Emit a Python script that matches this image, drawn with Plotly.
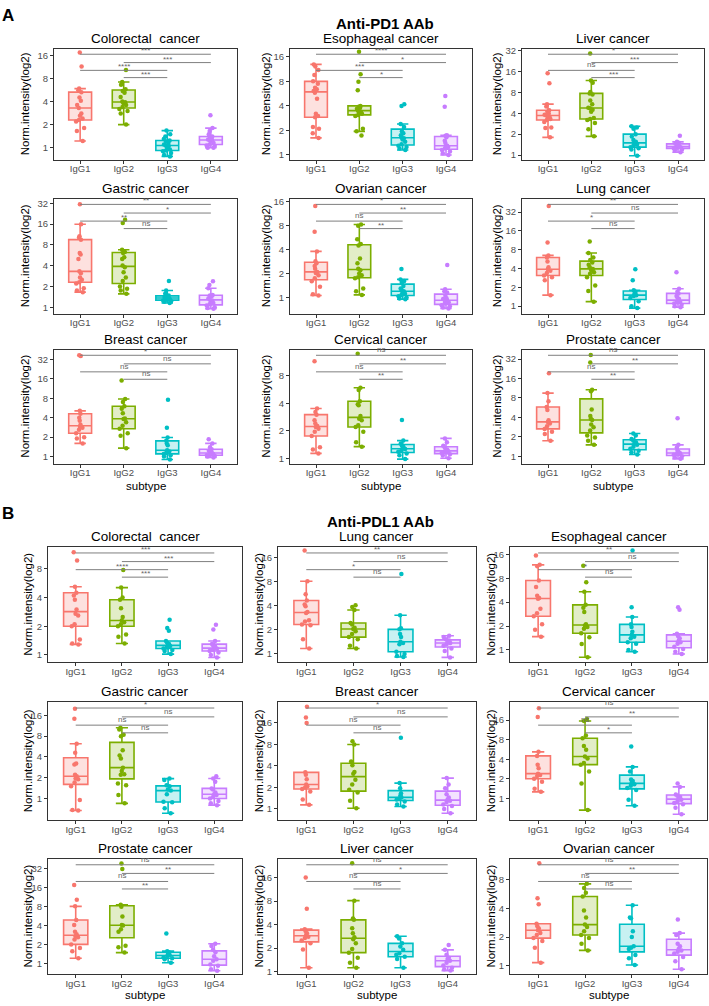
import math
import plotly.graph_objects as go

# ---------------- data ----------------
GROUPS = ["IgG1", "IgG2", "IgG3", "IgG4"]
COLORS = ["#F8766D", "#7CAE00", "#00BFC4", "#C77CFF"]
FILLS = ["rgba(248,118,109,0.22)", "rgba(124,174,0,0.22)",
         "rgba(0,191,196,0.22)", "rgba(199,124,255,0.22)"]
# comparison order (top to bottom): IgG1-IgG4, IgG2-IgG4, IgG1-IgG3, IgG2-IgG3
COMPARISONS = [(0, 3), (1, 3), (0, 2), (1, 2)]
Y_TICKS = [1, 2, 4, 8, 16, 32]

# ---- Panel A: Anti-PD1 AAb ----
pd1_titles = ["Colorectal  cancer", "Esophageal cancer", "Liver cancer",
              "Gastric cancer", "Ovarian cancer", "Lung cancer",
              "Breast cancer", "Cervical cancer", "Prostate cancer"]

pd1_colorectal = [
    [17.5, 11.5, 5.9, 5.6, 5.3, 4.5, 4.1, 3.6, 3.3, 2.8, 2.6, 2.4, 2.3, 2.2, 1.8, 1.65, 1.22],
    [10.3, 7.2, 6.6, 5.8, 5.5, 5.2, 4.6, 4.0, 3.9, 3.8, 3.6, 3.4, 3.2, 3.0, 2.8, 2.0],
    [1.67, 1.5, 1.4, 1.3, 1.24, 1.2, 1.15, 1.1, 1.07, 1.05, 1.0, 0.95, 0.92, 0.9, 0.85, 0.8, 0.77],
    [2.65, 1.8, 1.65, 1.5, 1.4, 1.35, 1.3, 1.28, 1.26, 1.22, 1.2, 1.15, 1.1, 1.07, 1.05, 1.0, 1.0],
]
pd1_esophageal = [
    [12.9, 12.2, 11, 9.6, 8.0, 7.5, 6.7, 6.4, 6.1, 5.8, 4.9, 3.2, 3.0, 2.9, 2.2, 2.1, 1.85, 1.62],
    [18.5, 9.8, 7.9, 6.2, 4.0, 3.9, 3.8, 3.7, 3.5, 3.4, 3.3, 3.2, 3.1, 3.0, 2.1, 1.95, 1.74],
    [4.2, 4.0, 2.4, 2.2, 1.95, 1.85, 1.75, 1.65, 1.6, 1.55, 1.45, 1.35, 1.3, 1.25, 1.2, 1.15],
    [5.3, 3.9, 1.75, 1.72, 1.65, 1.5, 1.4, 1.3, 1.27, 1.25, 1.2, 1.15, 1.1, 1.05, 1.0],
]
pd1_liver = [
    [15, 10.8, 5.4, 5.0, 4.4, 4.2, 4.0, 3.8, 3.7, 3.6, 3.4, 3.3, 3.2, 3.0, 2.5, 2.45, 1.8],
    [28.8, 11.8, 11, 8.1, 7.7, 7.4, 6.1, 5.4, 4.8, 4.7, 4.5, 4.2, 3.4, 3.3, 3.2, 2.9, 2.35, 1.86],
    [2.6, 2.5, 2.4, 2.0, 1.85, 1.65, 1.55, 1.45, 1.42, 1.38, 1.3, 1.25, 1.2, 0.98],
    [1.9, 1.55, 1.5, 1.45, 1.4, 1.35, 1.33, 1.3, 1.28, 1.25, 1.2, 1.15, 1.1],
]
pd1_gastric = [
    [31, 15.9, 10.6, 10.2, 9.5, 6.1, 5.8, 5.0, 3.3, 3.1, 2.7, 2.5, 2.3, 2.2, 1.88, 1.74, 1.65],
    [18.4, 16.5, 6.8, 6.3, 6.1, 5.3, 5.0, 4.0, 3.8, 3.2, 2.7, 2.4, 2.0, 1.85, 1.75, 1.56],
    [2.4, 1.74, 1.56, 1.47, 1.45, 1.42, 1.4, 1.37, 1.35, 1.33, 1.3, 1.28, 1.25, 1.22, 1.2, 1.15],
    [2.37, 2.1, 1.88, 1.5, 1.47, 1.44, 1.35, 1.3, 1.25, 1.2, 1.15, 1.1, 1.06, 1.0, 0.97, 0.95],
]
pd1_ovarian = [
    [14.1, 6.7, 3.8, 2.85, 2.7, 2.5, 2.3, 2.1, 2.04, 1.9, 1.75, 1.6, 1.37, 1.1, 1.06],
    [8.3, 8.0, 5.4, 4.7, 4.5, 3.1, 2.7, 2.3, 2.2, 2.0, 1.9, 1.8, 1.75, 1.3, 1.2, 1.08],
    [2.28, 1.69, 1.62, 1.55, 1.4, 1.3, 1.25, 1.2, 1.16, 1.12, 1.08, 1.04, 1.0, 0.97, 0.95],
    [2.57, 1.27, 1.2, 1.16, 1.05, 0.98, 0.96, 0.93, 0.92, 0.9, 0.87, 0.84, 0.8, 0.78, 0.75, 0.73],
]
pd1_lung = [
    [40, 10.5, 6.5, 6.0, 5.2, 4.2, 3.9, 3.7, 3.4, 3.1, 2.9, 2.6, 1.5],
    [10.8, 7.1, 6.0, 5.5, 5.0, 4.6, 4.2, 3.95, 3.8, 3.5, 3.3, 2.9, 2.15, 1.75, 1.18],
    [3.9, 2.6, 1.8, 1.7, 1.6, 1.5, 1.45, 1.35, 1.2, 1.0, 0.93],
    [3.5, 1.9, 1.7, 1.6, 1.45, 1.38, 1.3, 1.2, 1.18, 1.15, 1.1, 1.05, 1.0, 0.96],
]
pd1_breast = [
    [37, 36, 5.1, 4.6, 4.0, 3.6, 3.1, 2.9, 2.8, 2.6, 2.3, 2.0, 1.9, 1.6],
    [15, 7.8, 7.0, 6.0, 5.5, 4.7, 3.9, 3.8, 3.4, 3.0, 2.7, 2.3, 2.1, 1.35],
    [7.6, 2.8, 1.97, 1.75, 1.6, 1.5, 1.25, 1.2, 1.15, 1.1, 1.05, 1.0, 0.9],
    [1.86, 1.6, 1.39, 1.3, 1.23, 1.2, 1.15, 1.12, 1.1, 1.07, 1.05, 1.02, 1.0, 0.97],
]
pd1_cervical = [
    [11.5, 3.5, 3.2, 3.0, 2.6, 2.4, 2.25, 2.2, 2.1, 1.95, 1.75, 1.32, 1.25, 1.13],
    [13.9, 5.9, 5.6, 4.2, 3.9, 3.8, 2.9, 2.7, 2.6, 2.3, 2.2, 1.95, 1.5, 1.34],
    [2.63, 1.56, 1.45, 1.38, 1.33, 1.28, 1.26, 1.22, 1.18, 1.13, 1.08, 0.98],
    [1.65, 1.5, 1.37, 1.3, 1.25, 1.22, 1.19, 1.17, 1.14, 1.11, 1.07, 1.0],
]
pd1_prostate = [
    [19.3, 9.5, 7.1, 5.8, 5.2, 3.6, 3.4, 3.2, 2.9, 2.65, 2.4, 2.2, 1.74],
    [37, 28.4, 10.7, 10.2, 5.3, 4.2, 3.8, 3.64, 3.1, 2.8, 2.5, 2.1, 1.95, 1.74, 1.5],
    [2.25, 2.1, 1.85, 1.75, 1.65, 1.58, 1.5, 1.4, 1.3, 1.22, 1.15, 1.06],
    [3.86, 1.5, 1.37, 1.22, 1.17, 1.13, 1.11, 1.08, 1.05, 1.0, 0.96, 0.91],
]
pd1_sig = [
    ["***", "***", "****", "***"],
    ["****", "*", "***", "*"],
    ["*", "***", "ns", "***"],
    ["**", "*", "**", "ns"],
    ["*", "**", "ns", "**"],
    ["**", "ns", "*", "ns"],
    ["*", "ns", "ns", "ns"],
    ["ns", "**", "ns", "**"],
    ["ns", "**", "ns", "**"],
]
pd1_ylim_log2 = [(-0.53, 4.29), (-0.2, 4.33), (-0.23, 5.08),
                 (-0.32, 5.22), (-0.68, 4.13), (-0.41, 5.72),
                 (-0.37, 5.5), (-0.2, 3.95), (-0.39, 5.49)]

# ---- Panel B: Anti-PDL1 AAb ----
pdl1_titles = ["Colorectal  cancer", "Lung cancer", "Esophageal cancer",
               "Gastric cancer", "Breast cancer", "Cervical cancer",
               "Prostate cancer", "Liver cancer", "Ovarian cancer"]

pdl1_colorectal = [
    [12, 9.8, 5.2, 4.5, 4.2, 3.8, 3.0, 2.7, 2.6, 2.1, 2.0, 1.45, 1.32, 1.29],
    [7.8, 5.1, 4.0, 3.8, 3.1, 2.5, 2.3, 2.2, 2.1, 2.0, 1.64, 1.55, 1.32],
    [2.34, 1.92, 1.8, 1.4, 1.34, 1.3, 1.26, 1.24, 1.2, 1.17, 1.13, 1.1, 1.02],
    [2.08, 1.85, 1.4, 1.3, 1.25, 1.22, 1.18, 1.16, 1.13, 1.1, 1.06, 1.0, 0.94],
]
pdl1_lung = [
    [19.4, 8.0, 5.5, 4.6, 4.1, 3.9, 3.3, 3.2, 2.6, 2.5, 2.3, 2.25, 1.5, 1.15],
    [4.0, 3.8, 3.5, 2.4, 2.3, 2.1, 2.02, 1.9, 1.75, 1.6, 1.5, 1.25, 1.15],
    [9.9, 3.0, 2.06, 2.0, 1.75, 1.6, 1.4, 1.35, 1.3, 1.05, 0.98, 0.93, 0.9],
    [1.66, 1.6, 1.5, 1.45, 1.4, 1.35, 1.3, 1.25, 1.15, 1.07, 0.89],
]
pdl1_esophageal = [
    [15.5, 11.8, 11.3, 7.5, 6.2, 4.8, 4.5, 4.4, 3.3, 2.9, 2.66, 2.1, 1.8, 1.47],
    [11.5, 7.1, 5.4, 3.7, 3.4, 3.0, 2.1, 2.03, 1.95, 1.85, 1.62, 1.45, 1.19, 0.81],
    [17.9, 3.46, 2.6, 2.1, 1.95, 1.7, 1.55, 1.47, 1.4, 1.25, 1.2, 1.0, 0.95],
    [3.46, 3.2, 1.6, 1.5, 1.4, 1.32, 1.25, 1.2, 1.1, 1.03, 0.95, 0.89],
]
pdl1_gastric = [
    [20, 14.3, 6.2, 4.6, 3.2, 3.1, 2.2, 2.1, 1.95, 1.9, 1.7, 1.5, 0.95, 0.68, 0.67],
    [10.6, 10.0, 8.4, 8.0, 5.0, 4.2, 3.8, 2.8, 2.5, 2.25, 2.2, 1.65, 1.55, 1.12, 0.85],
    [1.94, 1.85, 1.55, 1.5, 1.35, 1.3, 1.15, 0.9, 0.88, 0.72, 0.61],
    [2.1, 1.95, 1.75, 1.4, 1.35, 1.22, 1.15, 1.12, 1.05, 1.0, 0.92, 0.85, 0.8],
]
pdl1_breast = [
    [27, 19, 16, 3.25, 3.0, 2.6, 2.2, 2.07, 2.0, 1.9, 1.75, 1.35, 1.14],
    [8.9, 8.0, 4.6, 4.1, 3.3, 3.1, 2.56, 2.2, 1.85, 1.7, 1.3, 1.02],
    [9.9, 2.3, 1.95, 1.65, 1.55, 1.45, 1.41, 1.35, 1.27, 1.15, 1.08],
    [2.7, 2.2, 1.95, 1.6, 1.45, 1.35, 1.3, 1.25, 1.15, 1.1, 1.0, 0.87],
]
pdl1_cervical = [
    [24.4, 17.8, 5.2, 4.5, 3.3, 2.9, 2.4, 2.28, 2.2, 2.0, 1.8, 1.4, 1.26],
    [16.7, 15.5, 9.3, 8.4, 6.4, 5.6, 4.4, 4.1, 3.5, 3.3, 2.6, 1.7, 0.66],
    [6.3, 3.05, 2.6, 1.95, 1.85, 1.75, 1.65, 1.56, 1.45, 1.35, 0.95, 0.77],
    [1.7, 1.5, 1.15, 1.1, 1.05, 1.0, 0.95, 0.9, 0.85, 0.81, 0.72, 0.57],
]
pdl1_prostate = [
    [17.8, 10.3, 8.1, 4.9, 4.1, 3.2, 2.9, 2.7, 2.6, 2.4, 2.0, 1.75, 1.55, 1.2],
    [39, 32, 8.6, 8.0, 5.6, 4.1, 4.0, 3.5, 3.2, 1.9, 1.8, 1.48],
    [3.0, 1.56, 1.5, 1.4, 1.35, 1.31, 1.25, 1.2, 1.16, 1.02],
    [2.05, 1.88, 1.65, 1.5, 1.3, 1.16, 1.1, 0.96, 0.91, 0.8, 0.76],
]
pdl1_liver = [
    [16, 6.4, 3.5, 3.3, 3.1, 2.95, 2.8, 2.7, 2.5, 2.3, 1.92, 1.12],
    [24.4, 8.1, 4.8, 4.6, 3.6, 3.1, 2.75, 2.6, 2.3, 1.95, 1.75, 1.5, 1.3, 1.12],
    [2.84, 2.65, 2.3, 2.1, 1.9, 1.72, 1.65, 1.55, 1.45, 1.12],
    [2.2, 1.9, 1.65, 1.5, 1.45, 1.38, 1.3, 1.2, 1.12, 1.07, 1.03],
]
pdl1_ovarian = [
    [11.8, 5.1, 4.4, 2.75, 2.6, 2.45, 2.36, 2.2, 2.1, 1.95, 1.82, 1.55, 1.08],
    [7.2, 6.5, 5.8, 5.3, 3.8, 3.2, 2.7, 2.54, 2.3, 2.1, 1.95, 1.7, 1.45],
    [4.3, 3.2, 3.15, 2.3, 2.0, 1.6, 1.55, 1.5, 1.3, 1.2, 1.02],
    [3.05, 2.2, 2.1, 1.7, 1.6, 1.5, 1.45, 1.4, 1.35, 1.24, 1.12, 0.92],
]
pdl1_sig = [
    ["***", "***", "****", "***"],
    ["**", "ns", "*", "ns"],
    ["**", "ns", "*", "ns"],
    ["*", "ns", "ns", "ns"],
    ["*", "ns", "ns", "ns"],
    ["ns", "**", "ns", "*"],
    ["ns", "**", "ns", "**"],
    ["ns", "*", "ns", "ns"],
    ["ns", "**", "ns", "ns"],
]
pdl1_ylim_log2 = [(-0.26, 3.76), (-0.375, 4.42), (-0.52, 4.3),
                  (-1.05, 4.64), (-0.53, 4.97), (-1.12, 4.92),
                  (-0.58, 5.53), (-0.11, 4.79), (-0.29, 3.71)]

pd1_data = [pd1_colorectal, pd1_esophageal, pd1_liver, pd1_gastric, pd1_ovarian,
            pd1_lung, pd1_breast, pd1_cervical, pd1_prostate]
pdl1_data = [pdl1_colorectal, pdl1_lung, pdl1_esophageal, pdl1_gastric, pdl1_breast,
             pdl1_cervical, pdl1_prostate, pdl1_liver, pdl1_ovarian]

# ---------------- layout geometry (pixels) ----------------
W, H = 709, 1006
FONT = "Liberation Sans, Arial, Helvetica, sans-serif"
NARROW = "Liberation Sans Narrow, Arial Narrow, Liberation Sans, sans-serif"
panels = [
    dict(data=pd1_data, titles=pd1_titles, sig=pd1_sig, ylim=pd1_ylim_log2,
         cols=[(54, 237), (290, 472), (522, 704)],
         rows=[(45, 157), (196, 312), (348, 463)],
         ytitle_x=[25, 266, 497], subtype_y=485, tickfont=FONT,
         title="Anti-PD1 AAb", title_xy=(385, 20), letter="A", letter_xy=(8, 12)),
    dict(data=pdl1_data, titles=pdl1_titles, sig=pdl1_sig, ylim=pdl1_ylim_log2,
         cols=[(48, 242), (278, 476), (510, 707)],
         rows=[(547, 663), (703, 822), (861, 977)],
         ytitle_x=[28, 259, 491], subtype_y=998, tickfont=NARROW,
         title="Anti-PDL1 AAb", title_xy=(380, 521), letter="B", letter_xy=(8, 513)),
]
BRACKET_FRAC = [0.95, 0.875, 0.805, 0.74]


def px_x(x):
    return x / W


def px_y(y):
    return 1 - y / H


fig = go.Figure()
annotations = []
shapes = []
layout_axes = {}

k = 0
for P in panels:
    for idx in range(9):
        k += 1
        r, c = divmod(idx, 3)
        xs = "x" if k == 1 else f"x{k}"
        ys = "y" if k == 1 else f"y{k}"
        xa = "xaxis" if k == 1 else f"xaxis{k}"
        ya = "yaxis" if k == 1 else f"yaxis{k}"
        x0, x1 = P["cols"][c]
        y0, y1 = P["rows"][r]
        lo, hi = P["ylim"][idx]

        for g in range(4):
            vals = P["data"][idx][g]
            fig.add_trace(go.Box(
                x=[GROUPS[g]] * len(vals), y=vals, name=GROUPS[g],
                xaxis=xs, yaxis=ys, boxpoints="all", jitter=0.45, pointpos=0,
                quartilemethod="inclusive",
                marker=dict(color=COLORS[g], size=4.5, opacity=1),
                line=dict(color=COLORS[g], width=1.6),
                fillcolor=FILLS[g], showlegend=False, hoverinfo="skip"))

        common = dict(showline=True, mirror=True, linecolor="#333333", linewidth=1,
                      ticks="outside", ticklen=3, tickcolor="#333333", tickwidth=1,
                      showgrid=False, zeroline=False)
        layout_axes[xa] = dict(domain=[px_x(x0), px_x(x1)], anchor=ys, type="category",
                               categoryorder="array", categoryarray=GROUPS,
                               range=[-0.6, 3.6], ticklabelstandoff=-3,
                               tickfont=dict(family=P["tickfont"], size=9.5, color="#4D4D4D"),
                               **common)
        layout_axes[ya] = dict(domain=[px_y(y1), px_y(y0)], anchor=xs, type="log",
                               range=[lo * math.log10(2), hi * math.log10(2)],
                               tickmode="array", tickvals=Y_TICKS,
                               ticktext=[str(v) for v in Y_TICKS],
                               tickfont=dict(family=P["tickfont"], size=9.5, color="#4D4D4D"),
                               **common)

        # subplot title
        annotations.append(dict(text=P["titles"][idx], xref="paper", yref="paper",
                                x=px_x((x0 + x1) / 2), y=px_y(y0 - 1), xanchor="center",
                                yanchor="bottom", showarrow=False,
                                font=dict(family=FONT, size=13.5, color="black")))
        # y-axis title
        annotations.append(dict(text="Norm.intensity(log2)", xref="paper", yref="paper",
                                x=px_x(P["ytitle_x"][c]), y=px_y((y0 + y1) / 2),
                                xanchor="center", yanchor="middle", textangle=-90,
                                showarrow=False,
                                font=dict(family=FONT, size=11.5, color="black")))
        # significance brackets
        for (a, b), lab, fr in zip(COMPARISONS, P["sig"][idx], BRACKET_FRAC):
            shapes.append(dict(type="line", xref=xs, yref=f"{ys} domain",
                               x0=a, x1=b, y0=fr, y1=fr,
                               line=dict(color="#7F7F7F", width=1)))
            annotations.append(dict(text=lab, xref=xs, yref=f"{ys} domain",
                                    x=(a + b) / 2, y=fr, xanchor="center",
                                    yanchor="bottom", yshift=-3 if "*" in lab else -1,
                                    showarrow=False,
                                    font=dict(family=FONT, size=8, color="#666666")))
        # x-axis title for bottom row
        if r == 2:
            annotations.append(dict(text="subtype", xref="paper", yref="paper",
                                    x=px_x((x0 + x1) / 2), y=px_y(P["subtype_y"]),
                                    xanchor="center", yanchor="middle", showarrow=False,
                                    font=dict(family=FONT, size=11.5, color="black")))

    # panel title & letter
    annotations.append(dict(text=f"<b>{P['title']}</b>", xref="paper", yref="paper",
                            x=px_x(P["title_xy"][0]), y=px_y(P["title_xy"][1]),
                            xanchor="center", yanchor="middle", showarrow=False,
                            font=dict(family=FONT, size=15, color="black")))
    annotations.append(dict(text=f"<b>{P['letter']}</b>", xref="paper", yref="paper",
                            x=px_x(P["letter_xy"][0]), y=px_y(P["letter_xy"][1]),
                            xanchor="center", yanchor="middle", showarrow=False,
                            font=dict(family=FONT, size=17, color="black")))

fig.update_layout(
    width=W, height=H, margin=dict(l=0, r=0, t=0, b=0),
    paper_bgcolor="white", plot_bgcolor="white",
    boxmode="overlay", boxgap=0.25, showlegend=False,
    font=dict(family=FONT), annotations=annotations, shapes=shapes,
    **layout_axes)

fig.write_html(
    "out.html",
    config={"displayModeBar": False},
    post_script="document.body.style.margin='0';document.body.style.overflow='hidden';")
